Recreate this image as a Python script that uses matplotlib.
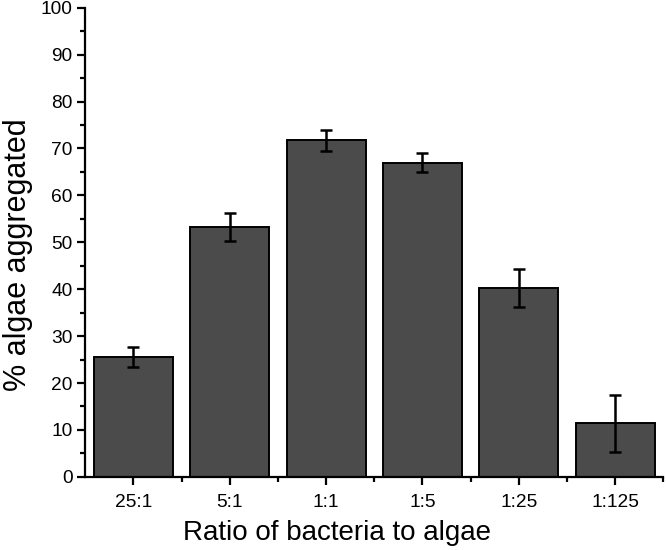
import numpy as np
import matplotlib
matplotlib.use('Agg')
import matplotlib.pyplot as plt
from matplotlib.ticker import MultipleLocator

plt.rcParams['font.family'] = ['Liberation Sans', 'DejaVu Sans']

# data
ratios = ['25:1', '5:1', '1:1', '1:5', '1:25', '1:125']
pct_aggregated = [25.5, 53.2, 71.7, 67.0, 40.3, 11.4]
err = [2.1, 3.0, 2.3, 2.0, 4.0, 6.1]

fig = plt.figure(figsize=(6.66, 5.5), dpi=100)
ax = fig.add_axes([0.128, 0.133, 0.868, 0.853])

x = np.arange(len(ratios))
ax.bar(x, pct_aggregated, width=0.82, color='#4b4b4b', edgecolor='black', linewidth=1.4, zorder=2)
ax.errorbar(x, pct_aggregated, yerr=err, fmt='none', ecolor='black', elinewidth=1.8,
            capsize=4.6, capthick=1.8, zorder=3)

ax.set_xlim(-0.5, len(ratios) - 0.5)
ax.set_ylim(0, 100)
ax.set_xticks(x)
ax.set_xticklabels(ratios)
ax.set_xticks(x + 0.5, minor=True)
ax.yaxis.set_major_locator(MultipleLocator(10))
ax.yaxis.set_minor_locator(MultipleLocator(5))

for s in ['top', 'right']:
    ax.spines[s].set_visible(False)
for s in ['left', 'bottom']:
    ax.spines[s].set_linewidth(1.6)

ax.tick_params(which='major', direction='out', length=6, width=1.6, labelsize=13.8)
ax.tick_params(axis='x', which='major', pad=6)
ax.tick_params(axis='y', which='major', pad=3)
ax.tick_params(which='minor', direction='out', length=3.5, width=1.6)

ax.set_xlabel('Ratio of bacteria to algae', fontsize=20)
ax.xaxis.set_label_coords(0.436, -0.093)
ax.set_ylabel('% algae aggregated', fontsize=22)
ax.yaxis.set_label_coords(-0.09, 0.473)

fig.savefig('out.png', dpi=100)
